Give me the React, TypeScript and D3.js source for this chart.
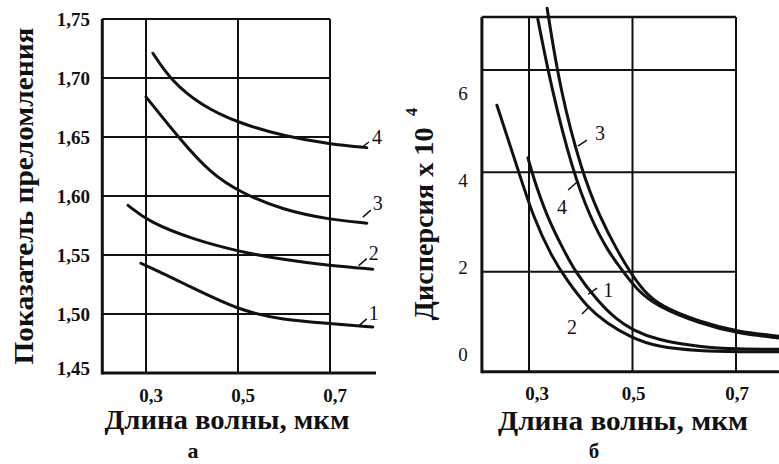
import React from 'react';
import * as d3 from 'd3';

const W = 779;
const H = 464;

// ---------- Panel "а": refractive index ----------
const aXTicks = [0.3, 0.5, 0.7];
const aXTickLabels = ['0,3', '0,5', '0,7'];
const aYTicks = [1.45, 1.5, 1.55, 1.6, 1.65, 1.7, 1.75];
const aYTickLabels = ['1,45', '1,50', '1,55', '1,60', '1,65', '1,70', '1,75'];
const aXMin = 0.205;
const aXMax = 0.8;
const aYMin = 1.45;
const aYMax = 1.75;
const aGridRight = 0.7;

const aCurve1: [number, number][] = [[0.289, 1.543], [0.382, 1.526], [0.501, 1.503], [0.598, 1.495], [0.7, 1.492], [0.793, 1.489]];
const aCurve2: [number, number][] = [[0.261, 1.592], [0.306, 1.578], [0.404, 1.563], [0.501, 1.553], [0.598, 1.546], [0.7, 1.541], [0.793, 1.538]];
const aCurve3: [number, number][] = [[0.3, 1.684], [0.376, 1.647], [0.441, 1.619], [0.505, 1.603], [0.598, 1.588], [0.7, 1.58], [0.78, 1.577]];
const aCurve4: [number, number][] = [[0.315, 1.721], [0.354, 1.698], [0.419, 1.677], [0.499, 1.662], [0.607, 1.65], [0.7, 1.644], [0.78, 1.641]];
const aCurves = [aCurve1, aCurve2, aCurve3, aCurve4];
const aCurveNames = ['1', '2', '3', '4'];
const aLabelAt: [number, number][] = [[0.795, 1.501], [0.795, 1.552], [0.804, 1.594], [0.802, 1.65]];

// ---------- Panel "б": dispersion ----------
const bXTicks = [0.3, 0.5, 0.7];
const bXTickLabels = ['0,3', '0,5', '0,7'];
const bYTicks = [0, 2, 4, 6];
const bYTickLabels = ['0', '2', '4', '6'];
const bGridY = [1.89, 4.18, 6.53];
const bXMin = 0.209;
const bXMax = 0.783;
const bYMin = -0.41;
const bYMax = 7.75;
const bGridRight = 0.7;

const bCurve1: [number, number][] = [[0.298, 4.51], [0.308, 4.07], [0.335, 3.15], [0.364, 2.46], [0.389, 1.89], [0.431, 1.24], [0.47, 0.78], [0.501, 0.55], [0.547, 0.32], [0.63, 0.16], [0.704, 0.11], [0.783, 0.11]];
const bCurve2: [number, number][] = [[0.238, 5.72], [0.279, 4.23], [0.308, 3.15], [0.344, 2.23], [0.373, 1.7], [0.412, 1.08], [0.45, 0.71], [0.495, 0.39], [0.547, 0.16], [0.63, 0.07], [0.704, 0.05], [0.783, 0.05]];
const bCurve3: [number, number][] = [[0.335, 7.95], [0.36, 6.07], [0.402, 4.18], [0.437, 3.15], [0.47, 2.39], [0.495, 1.89], [0.52, 1.47], [0.553, 1.1], [0.63, 0.74], [0.704, 0.51], [0.783, 0.41]];
const bCurve4: [number, number][] = [[0.317, 7.7], [0.344, 6.07], [0.385, 4.18], [0.418, 3.15], [0.451, 2.39], [0.482, 1.89], [0.509, 1.47], [0.547, 1.1], [0.63, 0.7], [0.704, 0.47], [0.783, 0.37]];
const bCurves = [bCurve1, bCurve2, bCurve3, bCurve4];
const bCurveNames = ['1', '2', '3', '4'];
const bLabelAt: [number, number][] = [[0.453, 1.47], [0.383, 0.62], [0.437, 5.08], [0.364, 3.38]];

const FONT = '"Liberation Serif", "DejaVu Serif", serif';

export default function App() {
  const ax = d3.scaleLinear().domain([0.3, 0.7]).range([146, 330]);
  const ay = d3.scaleLinear().domain([aYMin, aYMax]).range([373, 19]);
  const bx = d3.scaleLinear().domain([0.3, 0.7]).range([529, 736]);
  const by = d3.scaleLinear().domain([0, 6]).range([354, 93]);

  const aLine = d3.line<[number, number]>().x(d => ax(d[0])).y(d => ay(d[1])).curve(d3.curveBasis);
  const bLine = d3.line<[number, number]>().x(d => bx(d[0])).y(d => by(d[1])).curve(d3.curveBasis);

  // leader offsets (pixels, relative to label centre)
  const aLeader: [number, number, number, number][] = [[-15, 13, -7, 6], [-15, 13, -7, 6], [-15, 14, -7, 7], [-16, 11, -8, 5]];
  const bLeader: [number, number, number, number][] = [[-20, 4, -11, -2], [10, -13, 17, -20], [-22, 13, -13, 7], [6, -17, 15, -25]];

  return (
    <svg width={W} height={H} style={{ position: 'absolute', left: 0, top: 0, background: '#fff' }} fontFamily={FONT}>
      <rect x={0} y={0} width={W} height={H} fill="#fff" />
      {/* ---- Panel a ---- */}
      <g stroke="#111" fill="none">
        {aYTicks.slice(1).map(v => (
          <line key={'ah' + v} x1={ax(aXMin)} x2={ax(aGridRight)} y1={ay(v)} y2={ay(v)} strokeWidth={2} />
        ))}
        {aXTicks.map(v => (
          <line key={'av' + v} x1={ax(v)} x2={ax(v)} y1={ay(aYMax)} y2={ay(aYMin)} strokeWidth={2} />
        ))}
        <line x1={ax(aXMin)} x2={ax(aXMin)} y1={ay(aYMax)} y2={ay(aYMin) + 1.5} strokeWidth={3} />
        <line x1={ax(aXMin)} x2={ax(aXMax)} y1={ay(aYMin)} y2={ay(aYMin)} strokeWidth={3} />
        {aCurves.map((c, i) => (
          <path key={'ac' + i} d={aLine(c) || ''} strokeWidth={3} strokeLinecap="round" />
        ))}
        {aLabelAt.map((p, i) => {
          const [dx1, dy1, dx2, dy2] = aLeader[i];
          const px = ax(p[0]);
          const py = ay(p[1]);
          return <line key={'al' + i} x1={px + dx1} y1={py + dy1} x2={px + dx2} y2={py + dy2} strokeWidth={1.5} />;
        })}
      </g>
      <g fill="#111">
        {aYTicks.map((v, i) => (
          <text key={'ayt' + v} x={90} y={ay(v) - (i === 0 ? 5 : 0)} dy="0.35em" textAnchor="end" fontSize={19} fontWeight="bold">
            {aYTickLabels[i]}
          </text>
        ))}
        {aXTicks.map((v, i) => (
          <text key={'axt' + v} x={ax(v) + 5} y={402} textAnchor="middle" fontSize={19} fontWeight="bold">
            {aXTickLabels[i]}
          </text>
        ))}
        {aLabelAt.map((p, i) => (
          <text key={'aln' + i} x={ax(p[0])} y={ay(p[1])} dy="0.35em" textAnchor="middle" fontSize={20}>
            {aCurveNames[i]}
          </text>
        ))}
        <text x={227} y={429} textAnchor="middle" fontSize={27} fontWeight="bold" textLength={245} lengthAdjust="spacingAndGlyphs">
          Длина волны, мкм
        </text>
        <text x={193} y={458} textAnchor="middle" fontSize={22} fontWeight="bold">а</text>
        <text transform="translate(33,196) rotate(-90)" textAnchor="middle" fontSize={28} fontWeight="bold" textLength={337} lengthAdjust="spacingAndGlyphs">
          Показатель преломления
        </text>
      </g>

      {/* ---- Panel b ---- */}
      <g stroke="#111" fill="none">
        <line x1={bx(bXMin)} x2={bx(bGridRight)} y1={by(bYMax)} y2={by(bYMax)} strokeWidth={2.5} />
        {bGridY.map(v => (
          <line key={'bh' + v} x1={bx(bXMin)} x2={bx(bGridRight)} y1={by(v)} y2={by(v)} strokeWidth={2} />
        ))}
        {bXTicks.map(v => (
          <line key={'bv' + v} x1={bx(v)} x2={bx(v)} y1={by(bYMax)} y2={by(bYMin)} strokeWidth={2} />
        ))}
        <line x1={bx(bXMin)} x2={bx(bXMin)} y1={by(bYMax)} y2={by(bYMin) + 1.5} strokeWidth={3} />
        <line x1={bx(bXMin)} x2={bx(bXMax)} y1={by(bYMin)} y2={by(bYMin)} strokeWidth={3} />
        {bCurves.map((c, i) => (
          <path key={'bc' + i} d={bLine(c) || ''} strokeWidth={3} strokeLinecap="round" />
        ))}
        {bLabelAt.map((p, i) => {
          const [dx1, dy1, dx2, dy2] = bLeader[i];
          const px = bx(p[0]);
          const py = by(p[1]);
          return <line key={'bl' + i} x1={px + dx1} y1={py + dy1} x2={px + dx2} y2={py + dy2} strokeWidth={1.5} />;
        })}
      </g>
      <g fill="#111">
        {bYTicks.map((v, i) => (
          <text key={'byt' + v} x={463} y={by(v)} dy="0.35em" textAnchor="middle" fontSize={19}>
            {bYTickLabels[i]}
          </text>
        ))}
        {bXTicks.map((v, i) => (
          <text key={'bxt' + v} x={bx(v) + (i === 0 ? 8 : 1)} y={400} textAnchor="middle" fontSize={19} fontWeight="bold">
            {bXTickLabels[i]}
          </text>
        ))}
        {bLabelAt.map((p, i) => (
          <text key={'bln' + i} x={bx(p[0])} y={by(p[1])} dy="0.35em" textAnchor="middle" fontSize={20}>
            {bCurveNames[i]}
          </text>
        ))}
        <text x={623} y={430} textAnchor="middle" fontSize={27} fontWeight="bold" textLength={250} lengthAdjust="spacingAndGlyphs">
          Длина волны, мкм
        </text>
        <text x={594} y={458} textAnchor="middle" fontSize={21} fontWeight="bold">б</text>
        <text transform="translate(433,224) rotate(-90)" textAnchor="middle" fontSize={28} fontWeight="bold" textLength={193} lengthAdjust="spacingAndGlyphs">
          Дисперсия х 10
        </text>
        <text transform="translate(417,112) rotate(-90)" textAnchor="middle" fontSize={16} fontWeight="bold">4</text>
      </g>
    </svg>
  );
}
